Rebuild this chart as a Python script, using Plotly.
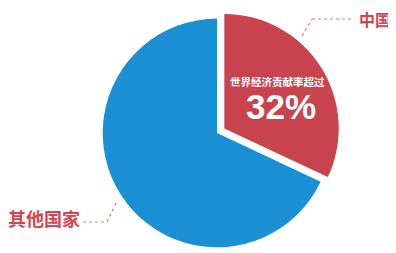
import plotly.graph_objects as go

labels = ["中国", "其他国家"]
values = [32, 68]
colors = ["#c9434f", "#1a8fd3"]
center_title = "世界经济贡献率超过"
center_value = "32%"

W, H = 396, 253
OFF = 8  # page offset compensation

fig = go.Figure()
fig.add_trace(go.Pie(
    labels=labels, values=values, sort=False, direction="clockwise", rotation=0,
    pull=[0.075, 0], marker=dict(colors=colors, line=dict(width=0)),
    textinfo="none", hoverinfo="label+percent", showlegend=False,
    domain=dict(x=[0.15, 0.906], y=[0.02, 0.992]),
))

def px(x, y):
    return (x - OFF) / W, 1 - (y - OFF) / H

red = "#d9434f"
ann = []
def text(xp, yp, t, fam, size, color, xa="center"):
    x, y = px(xp, yp)
    ann.append(dict(x=x, y=y, xref="paper", yref="paper", text=t, xanchor=xa, yanchor="middle",
                    showarrow=False, font=dict(family=fam, size=size, color=color)))

text(277, 81, "<b>" + center_title + "</b>", "Noto Sans CJK SC", 10.5, "white")
text(281, 107, "<b>" + center_value + "</b>", "Liberation Sans", 35, "white")
text(357, 19, "<b>" + labels[0] + "</b>", "Noto Sans CJK SC", 16, red, "left")
text(82, 218, "<b>" + labels[1] + "</b>", "Noto Sans CJK SC", 18, red, "right")

shapes = []
def seg(p, q):
    x0, y0 = px(*p)
    x1, y1 = px(*q)
    shapes.append(dict(type="line", xref="paper", yref="paper", x0=x0, y0=y0, x1=x1, y1=y1,
                       line=dict(color="#e07a80", width=1.2, dash="dot")))
seg((302, 36), (312, 19))
seg((312, 19), (353, 19))
seg((83, 222), (107, 222))
seg((107, 222), (117, 201))

fig.update_layout(width=W, height=H, margin=dict(l=0, r=0, t=0, b=0),
                  paper_bgcolor="white", plot_bgcolor="white",
                  annotations=ann, shapes=shapes)
fig.write_html("out.html")
